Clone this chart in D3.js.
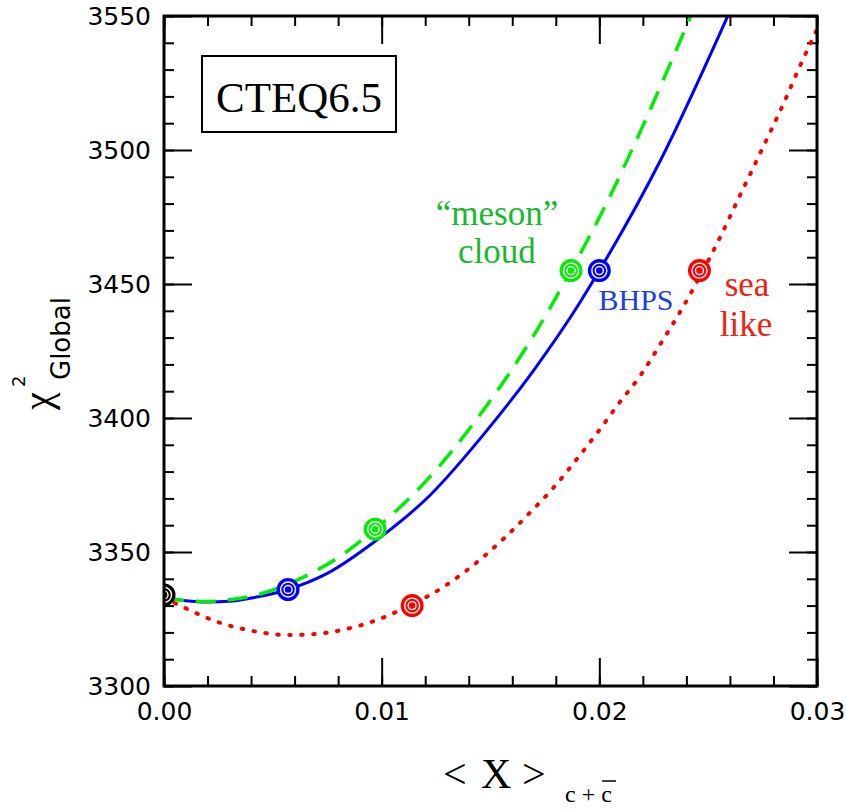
<!DOCTYPE html>
<html>
<head>
<meta charset="utf-8">
<script src="https://cdn.jsdelivr.net/npm/d3@7"></script>
<style>
  body { margin: 0; background: #fff; }
  svg { display: block; }
  .serif { font-family: "Liberation Serif", "Times New Roman", Times, serif; }
  .mono { font-family: "DejaVu Sans", sans-serif; }
</style>
</head>
<body>
<svg class="chart" width="846" height="810"></svg>
<script>
// curve samples (x = <x>_{c+cbar}, y = chi2 global)
const bhpsX = [0, 0.001, 0.002, 0.003, 0.004, 0.0057, 0.0075, 0.0097, 0.0122, 0.0148, 0.017, 0.0191, 0.02, 0.0228, 0.0259];
const bhpsY = [3333, 3331.8, 3331.3, 3331.6, 3332.8, 3336, 3342, 3354, 3371, 3395, 3418, 3443, 3455, 3496, 3550];

const mesonX = [0, 0.001, 0.002, 0.003, 0.0045, 0.0065, 0.0082, 0.0097, 0.0121, 0.0145, 0.017, 0.0187, 0.0202, 0.022, 0.0242];
const mesonY = [3333, 3331.8, 3331.5, 3332.2, 3334.5, 3341, 3349, 3358.5, 3377, 3401, 3431, 3455, 3478, 3509, 3550];

const seaX = [0, 0.001, 0.0025, 0.0041, 0.0057, 0.0068, 0.0084, 0.0099, 0.0114, 0.0123, 0.0133, 0.0145, 0.0157, 0.0169, 0.018, 0.019, 0.02, 0.02095, 0.0219, 0.0228, 0.02385, 0.0246, 0.0254, 0.0264, 0.0274, 0.0285, 0.0292, 0.03];
const seaY = [3333, 3329, 3323.8, 3320.5, 3319, 3319.3, 3321.3, 3325, 3330.5, 3334.3, 3339.5, 3347, 3355.7, 3365.4, 3375, 3385, 3395.5, 3406, 3416, 3427.5, 3441.5, 3452.5, 3465, 3482, 3499, 3518, 3531, 3545];

// fit points (circled markers)
const bhpsPtsX = [0.0057, 0.02];
const bhpsPtsY = [3336, 3455];
const mesonPtsX = [0.0097, 0.0187];
const mesonPtsY = [3358.5, 3455];
const seaPtsX = [0.0114, 0.0246];
const seaPtsY = [3330, 3455];
const basePtsX = [0];
const basePtsY = [3334];

const xTicks = [0, 0.01, 0.02, 0.03];
const yTicks = [3300, 3350, 3400, 3450, 3500, 3550];

const svg = d3.select(".chart");
const plotLeft = 164, plotRight = 817, plotTop = 16, plotBottom = 686;

const x = d3.scaleLinear().domain([0, 0.03]).range([plotLeft, plotRight]);
const y = d3.scaleLinear().domain([3300, 3550]).range([plotBottom, plotTop]);

const blue = "#0000ff";
const green = "#00ee00";
const red = "#ff0000";

svg.append("defs").append("clipPath").attr("id", "plot-clip")
  .append("rect")
  .attr("x", plotLeft).attr("y", plotTop)
  .attr("width", plotRight - plotLeft).attr("height", plotBottom - plotTop);

// axes with inward ticks on all four sides
const xMinor = x.ticks(15);
const yMinor = d3.range(3300, 3551, 10);

function styleAxis(g) {
  g.select(".domain").remove();
  g.selectAll("line").attr("stroke", "#000").attr("stroke-width", 2);
  g.selectAll("text").attr("fill", "#000").attr("class", "mono").attr("font-family", null).style("font-size", "25px");
}

svg.append("g")
  .attr("transform", "translate(0," + plotBottom + ")")
  .call(d3.axisBottom(x).tickValues(xTicks).tickSize(-28).tickPadding(16).tickFormat(d3.format(".2f")))
  .call(styleAxis);
svg.append("g")
  .attr("transform", "translate(0," + plotBottom + ")")
  .call(d3.axisBottom(x).tickValues(xMinor).tickSize(-10).tickFormat(""))
  .call(styleAxis);
svg.append("g")
  .attr("transform", "translate(0," + plotTop + ")")
  .call(d3.axisTop(x).tickValues(xTicks).tickSize(-28).tickFormat(""))
  .call(styleAxis);
svg.append("g")
  .attr("transform", "translate(0," + plotTop + ")")
  .call(d3.axisTop(x).tickValues(xMinor).tickSize(-10).tickFormat(""))
  .call(styleAxis);

svg.append("g")
  .attr("transform", "translate(" + plotLeft + ",0)")
  .call(d3.axisLeft(y).tickValues(yTicks).tickSize(-28).tickPadding(13).tickFormat(d3.format("d")))
  .call(styleAxis);
svg.append("g")
  .attr("transform", "translate(" + plotLeft + ",0)")
  .call(d3.axisLeft(y).tickValues(yMinor).tickSize(-10).tickFormat(""))
  .call(styleAxis);
svg.append("g")
  .attr("transform", "translate(" + plotRight + ",0)")
  .call(d3.axisRight(y).tickValues(yTicks).tickSize(-28).tickFormat(""))
  .call(styleAxis);
svg.append("g")
  .attr("transform", "translate(" + plotRight + ",0)")
  .call(d3.axisRight(y).tickValues(yMinor).tickSize(-10).tickFormat(""))
  .call(styleAxis);

// curves
const plot = svg.append("g").attr("clip-path", "url(#plot-clip)");
const line = d3.line()
  .x(d => x(d[0]))
  .y(d => y(d[1]))
  .curve(d3.curveMonotoneX);

plot.append("path")
  .datum(d3.zip(seaX, seaY))
  .attr("d", line)
  .attr("fill", "none")
  .attr("stroke", red)
  .attr("stroke-width", 4)
  .attr("stroke-linecap", "round")
  .attr("stroke-dasharray", "1.5 10.5");

plot.append("path")
  .datum(d3.zip(bhpsX, bhpsY))
  .attr("d", line)
  .attr("fill", "none")
  .attr("stroke", blue)
  .attr("stroke-width", 3);

plot.append("path")
  .datum(d3.zip(mesonX, mesonY))
  .attr("d", line)
  .attr("fill", "none")
  .attr("stroke", green)
  .attr("stroke-width", 3.5)
  .attr("stroke-dasharray", "20 12");

// circled markers
function markers(xs, ys, color) {
  const m = plot.selectAll(null)
    .data(d3.zip(xs, ys))
    .enter()
    .append("g")
    .attr("transform", d => "translate(" + x(d[0]) + "," + y(d[1]) + ")");
  m.append("circle").attr("r", 11.5).attr("fill", color);
  m.append("circle").attr("r", 7.5).attr("fill", "none").attr("stroke", "#fff").attr("stroke-width", 1.4);
  m.append("circle").attr("r", 4).attr("fill", "none").attr("stroke", "#fff").attr("stroke-width", 1.4);
}
markers(basePtsX, basePtsY, "#000");
markers(bhpsPtsX, bhpsPtsY, blue);
markers(mesonPtsX, mesonPtsY, green);
markers(seaPtsX, seaPtsY, red);

// frame
svg.append("rect")
  .attr("x", plotLeft).attr("y", plotTop)
  .attr("width", plotRight - plotLeft).attr("height", plotBottom - plotTop)
  .attr("fill", "none")
  .attr("stroke", "#000")
  .attr("stroke-width", 3);

// CTEQ6.5 box
svg.append("rect")
  .attr("x", 202).attr("y", 56)
  .attr("width", 194).attr("height", 76)
  .attr("fill", "#fff")
  .attr("stroke", "#000")
  .attr("stroke-width", 2);
svg.append("text")
  .attr("class", "serif")
  .attr("x", 299).attr("y", 112)
  .attr("text-anchor", "middle")
  .style("font-size", "43px")
  .text("CTEQ6.5");

// curve labels
function label(s, cx, yb, size, color) {
  svg.append("text")
    .attr("class", "serif")
    .attr("x", cx).attr("y", yb)
    .attr("text-anchor", "middle")
    .attr("fill", color)
    .style("font-size", size + "px")
    .text(s);
}
label("\u201cmeson\u201d", 497, 225, 35, "#19b92d");
label("cloud", 497, 263, 35, "#19b92d");
label("BHPS", 636, 310, 30, "#1f3fe0");
label("sea", 747, 296, 35, "#ee2211");
label("like", 746, 336, 35, "#ee2211");

// y axis title: chi^2_Global
const yt = svg.append("g").attr("transform", "translate(46,410) rotate(-90)");
yt.append("text").attr("x", 0).attr("y", 5)
  .attr("class", "serif")
  .style("font-size", "40px")
  .text("\u03c7");
yt.append("text").attr("x", 23).attr("y", -21)
  .attr("class", "mono")
  .style("font-size", "18px")
  .text("2");
yt.append("text").attr("x", 30).attr("y", 24)
  .attr("class", "mono")
  .style("font-size", "26px")
  .text("Global");

// x axis title: <x>_{c+cbar}
const xt = svg.append("g").attr("class", "serif");
xt.append("text").attr("x", 443).attr("y", 788)
  .style("font-size", "42px")
  .text("<");
xt.append("text").attr("x", 481).attr("y", 788)
  .style("font-size", "42px")
  .text("X");
xt.append("text").attr("x", 522).attr("y", 788)
  .style("font-size", "42px")
  .text(">");
xt.append("text").attr("x", 565).attr("y", 802)
  .style("font-size", "24px")
  .text("c + c");
xt.append("line")
  .attr("x1", 602).attr("x2", 616)
  .attr("y1", 781).attr("y2", 781)
  .attr("stroke", "#000").attr("stroke-width", 1.5);
</script>
</body>
</html>
